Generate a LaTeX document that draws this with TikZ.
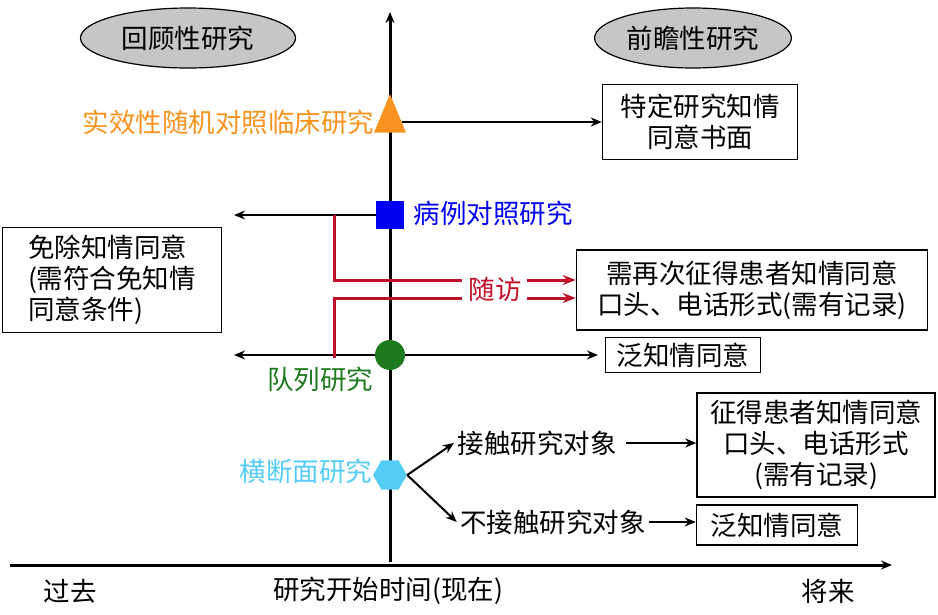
\documentclass[tikz,border=0pt]{standalone}
\usepackage{fontspec}
\setmainfont{Liberation Serif}
\newfontfamily\cjk{Noto Sans CJK SC}
\usetikzlibrary{shapes.geometric,arrows.meta}
\definecolor{org}{HTML}{F7931E}
\definecolor{blu}{HTML}{0000F0}
\definecolor{grn}{HTML}{1E7A1E}
\definecolor{cyn}{HTML}{55CCF5}
\definecolor{rd}{HTML}{C0102A}
\begin{document}
\begin{tikzpicture}[x=1pt,y=-1pt,
  every node/.style={font=\fontsize{26.5}{31}\selectfont\cjk},
  box/.style={draw,line width=1.5pt,align=center,inner sep=4pt},
  ar/.style={-{Stealth[length=11pt,width=9pt]},line width=2pt},
  rar/.style={-{Stealth[length=13pt,width=10pt]},line width=3pt,rd}]
\useasboundingbox (0,0) rectangle (938,614);
% axes
\coordinate (vb) at (390,562); \coordinate (vt) at (390,12);
\coordinate (hl) at (10,565); \coordinate (hr) at (892,565);
\draw[ar,line width=3pt] (vb) -- (vt);
\draw[ar,line width=3pt] (hl) -- (hr);
\node[ellipse,draw,line width=1.2pt,fill=gray!45,minimum width=215,minimum height=60] (e1) at (188,38) {回顾性研究};
\node[ellipse,draw,line width=1.2pt,fill=gray!45,minimum width=185,minimum height=60] (e2) at (693,38) {前瞻性研究};
% triangle
\node[isosceles triangle,shape border rotate=90,fill=org,minimum width=32,minimum height=26,inner sep=0] (tri) at (390,122) {};
\node[anchor=east,text=org] (tril) at (378,122) {实效性随机对照临床研究};
\node[box,minimum width=195,minimum height=75] (b1) at (700,122) {特定研究知情\\同意书面};
\draw[ar] (tri.east) -- (b1.west);
% square
\node[fill=blu,minimum size=28,inner sep=0] (sq) at (390,215) {};
\node[anchor=west,text=blu] (sql) at (410,213) {病例对照研究};
\coordinate (sqe) at (234,215);
\draw[ar] (sq.west) -- (sqe);
\node[box,align=left,minimum width=219,minimum height=105] (b2) at (112,280) {免除知情同意\\(需符合免知情\\同意条件)};
% circle
\node[circle,fill=grn,minimum size=30,inner sep=0] (ci) at (390,355) {};
\coordinate (cil) at (234,355); \coordinate (cir) at (598,355);
\draw[ar] (ci.west) -- (cil);
\draw[ar] (ci.east) -- (cir);
\node[text=grn] (cil2) at (320,379) {队列研究};
\node[box,minimum width=155,minimum height=35] (b4) at (683,355) {泛知情同意};
% red follow-up
\node[box,minimum width=351,minimum height=80] (b3) at (752,290) {需再次征得患者知情同意\\口头、电话形式(需有记录)};
\node[text=rd,inner sep=0] (sf) at (495,289) {随访};
\coordinate (r1) at (334,215); \coordinate (r2) at (334,280); \coordinate (r3) at (462,280);
\coordinate (r4) at (334,358); \coordinate (r5) at (334,298); \coordinate (r6) at (462,298);
\draw[rd,line width=3pt] (r1) -- (r2) -- (r3);
\draw[rd,line width=3pt] (r4) -- (r5) -- (r6);
\coordinate (r7) at (527,280); \coordinate (r8) at (527,298);
\draw[rar] (r7) -- (b3.west |- r7);
\draw[rar] (r8) -- (b3.west |- r8);
% hexagon
\node[regular polygon,regular polygon sides=6,fill=cyn,minimum size=34,inner sep=0] (hx) at (390,475) {};
\node[anchor=east,text=cyn] (hxl) at (376,471) {横断面研究};
\node (c1) at (537,443) {接触研究对象};
\node (c2) at (553,522) {不接触研究对象};
\node[box,minimum width=238,minimum height=104] (b5) at (816,445) {征得患者知情同意\\口头、电话形式\\(需有记录)};
\node[box,minimum width=161,minimum height=40] (b6) at (777,525) {泛知情同意};
\draw[ar] (hx.east) -- (c1.west);
\draw[ar] (hx.east) -- (c2.west);
\draw[ar] (c1.east) ++(6,0) -- (b5.west |- c1);
\draw[ar] (c2.east) -- (b6.west |- c2);
% bottom labels
\node (p1) at (70,591) {过去};
\node (p2) at (388,591) {研究开始时间(现在)};
\node (p3) at (828,591) {将来};
\end{tikzpicture}
\end{document}
